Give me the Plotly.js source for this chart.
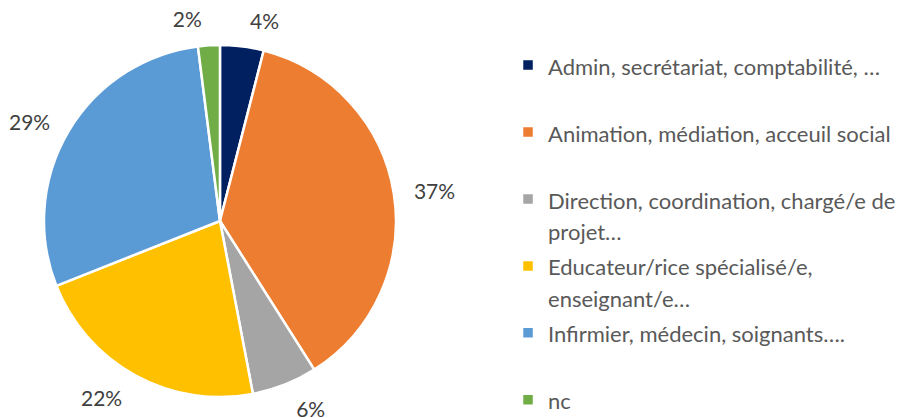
<!DOCTYPE html>
<html>
<head>
<meta charset="utf-8">
<script src="https://cdn.plot.ly/plotly-3.0.1.min.js"></script>
<style>html,body{margin:0;padding:0;background:#fff;}#chart{width:903px;height:418px;}</style>
</head>
<body>
<div id="chart"></div>
<script>
// Data
var categories = [
  "Admin, secrétariat, comptabilité, …",
  "Animation, médiation, acceuil social",
  "Direction, coordination, chargé/e de<br>projet…",
  "Educateur/rice spécialisé/e,<br>enseignant/e…",
  "Infirmier, médecin, soignants….",
  "nc"
];
var percentages = [4, 37, 6, 22, 29, 2];
var colors = ["#002060", "#ED7D31", "#A5A5A5", "#FFC000", "#5B9BD5", "#70AD47"];

var FONT = "Lato, 'Open Sans', sans-serif";
var TEXT_SIZE = 22;

// legend labels: visible text wrapped in a span; padding line keeps Excel-like spacing
var legendLabels = categories.map(function (c, i) {
  var parts = c.split("<br>");
  var body = parts.map(function (p) {
    return '<span style="font-size:' + TEXT_SIZE + 'px">' + p + '</span>';
  }).join("<br>");
  if (parts.length < 2 && i < categories.length - 1) body += "<br>&nbsp;";
  return body;
});

var pieTrace = {
  type: "pie",
  labels: legendLabels,
  values: percentages,
  sort: false,
  direction: "clockwise",
  rotation: 0,
  marker: { colors: colors, line: { color: "#ffffff", width: 2.5 } },
  textinfo: "none",
  hoverinfo: "label+percent",
  domain: { x: [0.0487, 0.4385], y: [0.0502, 0.8923] }
};

// transparent companion pie (same data, larger radius) that carries the outside labels
var labelTrace = {
  type: "pie",
  labels: legendLabels,
  values: percentages,
  sort: false,
  direction: "clockwise",
  rotation: 0,
  showlegend: false,
  marker: { colors: colors.map(function () { return "rgba(0,0,0,0)"; }), line: { width: 0 } },
  texttemplate: "%{value}%",
  textposition: "outside",
  textfont: { family: FONT, size: 21, color: "#404040" },
  hoverinfo: "skip",
  domain: { x: [0.0332, 0.4540], y: [0.0167, 0.9258] }
};

var layout = {
  width: 903,
  height: 418,
  margin: { l: 0, r: 0, t: 0, b: 0, autoexpand: false },
  paper_bgcolor: "#ffffff",
  plot_bgcolor: "#ffffff",
  showlegend: true,
  legend: {
    x: 0.5626, xanchor: "left",
    y: 0.8983, yanchor: "top",
    valign: "top",
    font: { family: FONT, size: 24.6, color: "#595959" },
    bgcolor: "rgba(0,0,0,0)",
    borderwidth: 0
  }
};

Plotly.newPlot("chart", [pieTrace, labelTrace], layout, { displayModeBar: false, staticPlot: true });
</script>
</body>
</html>
